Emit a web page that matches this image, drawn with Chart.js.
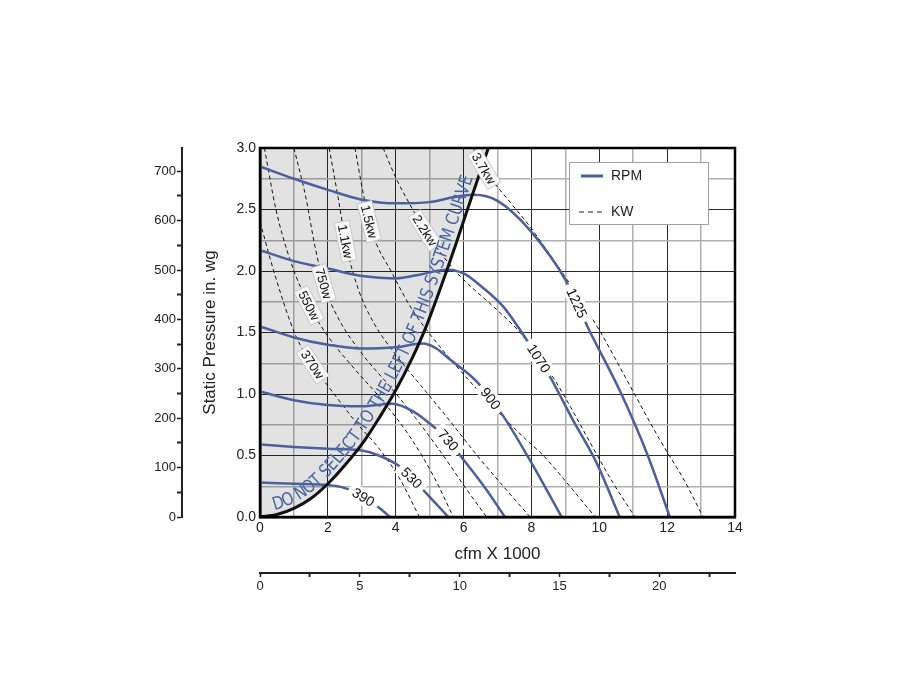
<!DOCTYPE html>
<html>
<head>
<meta charset="utf-8">
<title>Fan curve</title>
<script src="https://cdn.jsdelivr.net/npm/chart.js@4.4.1/dist/chart.umd.min.js"></script>
<style>
  html, body { margin: 0; padding: 0; background: #fff; }
  #wrap { width: 900px; height: 700px; position: relative; }
</style>
</head>
<body>
<div id="wrap"><canvas id="fan"></canvas></div>
<script>
const FONT = "'Liberation Sans', Arial, sans-serif";
const NARROW = "'Liberation Sans Narrow', 'DejaVu Sans Condensed', 'Liberation Sans', sans-serif";
const BLUE = '#4b609c';
const MAJOR = '#2a2a2a';
const MINOR = '#b0b0b0';

// RPM curves: [cfm x 1000, static pressure in. wg]
const rpmNames = ['1225', '1070', '900', '730', '530', '390'];
const rpm1225 = [[0, 2.85], [1, 2.75], [2, 2.66], [3, 2.58], [4, 2.55], [5, 2.56], [5.7, 2.6], [6.3, 2.62], [7.0, 2.57], [7.96, 2.33], [9.04, 1.91], [9.7, 1.52], [10.6, 1.03], [11.4, 0.52], [12.08, 0]];
const rpm1070 = [[0, 2.17], [1, 2.08], [2, 2.02], [3, 1.96], [4, 1.94], [4.7, 1.97], [5.5, 2.01], [6.0, 1.98], [6.5, 1.88], [7.17, 1.71], [7.86, 1.44], [8.55, 1.14], [9.2, 0.8], [9.92, 0.44], [10.6, 0]];
const rpm900 = [[0, 1.55], [1, 1.46], [2, 1.4], [3, 1.37], [4, 1.38], [4.8, 1.41], [5.2, 1.37], [5.6, 1.28], [6.39, 1.1], [7.17, 0.82], [7.96, 0.46], [8.89, 0]];
const rpm730 = [[0, 1.02], [1, 0.95], [2, 0.91], [3, 0.9], [3.9, 0.92], [4.5, 0.86], [5.0, 0.76], [5.5, 0.64], [5.9, 0.5], [6.6, 0.25], [7.22, 0]];
const rpm530 = [[0, 0.59], [1, 0.57], [2, 0.555], [3, 0.54], [3.5, 0.5], [4.07, 0.42], [4.5, 0.31], [4.91, 0.19], [5.55, 0]];
const rpm390 = [[0, 0.28], [1, 0.27], [2, 0.26], [2.5, 0.235], [3.0, 0.17], [3.54, 0.07], [3.83, 0]];
const rpmCurves = [rpm1225, rpm1070, rpm900, rpm730, rpm530, rpm390];
const rpmLabelAt = [9.34, 8.22, 6.8, 5.55, 4.47, 3.05];

// constant power lines
const kwNames = ['370w', '550w', '750w', '1.1kw', '1.5kw', '2.2kw', '3.7kw'];
const kw370 = [[0, 2.4], [0.47, 1.94], [1.06, 1.47], [1.55, 1.24], [2.24, 0.98], [2.83, 0.77], [3.5, 0.56], [4.1, 0.32], [4.7, 0]];
const kw550 = [[0.13, 3.0], [0.47, 2.5], [0.9, 2.08], [1.45, 1.72], [2.0, 1.47], [2.8, 1.2], [3.6, 0.95], [4.4, 0.66], [5.1, 0.34], [5.7, 0]];
const kw750 = [[1.0, 3.0], [1.35, 2.6], [1.62, 2.2], [1.9, 1.88], [2.3, 1.62], [3.0, 1.33], [3.8, 1.07], [4.6, 0.8], [5.4, 0.5], [6.1, 0.22], [6.68, 0]];
const kw1100 = [[2.04, 3.0], [2.3, 2.6], [2.55, 2.2], [2.9, 1.85], [3.35, 1.58], [4.0, 1.32], [4.8, 1.05], [5.6, 0.78], [6.4, 0.5], [7.2, 0.24], [7.96, 0]];
const kw1500 = [[2.8, 3.0], [3.05, 2.62], [3.3, 2.32], [3.9, 1.98], [4.5, 1.68], [5.2, 1.42], [6.0, 1.16], [7.0, 0.86], [7.8, 0.64], [8.35, 0.5], [9.1, 0.26], [9.88, 0]];
const kw2200 = [[3.63, 3.0], [4.0, 2.76], [4.4, 2.55], [4.86, 2.33], [5.66, 2.03], [6.0, 1.93], [7.0, 1.68], [7.6, 1.52], [8.15, 1.33], [8.65, 1.13], [9.04, 0.95], [9.8, 0.57], [10.4, 0.28], [11.05, 0]];
const kw3700 = [[6.28, 3.0], [6.63, 2.82], [7.37, 2.56], [7.96, 2.36], [8.5, 2.15], [9.05, 1.93], [10.0, 1.52], [10.8, 1.12], [11.8, 0.62], [12.5, 0.3], [13.06, 0]];
const kwCurves = [kw370, kw550, kw750, kw1100, kw1500, kw2200, kw3700];
const kwLabelAt = [1.55, 1.45, 1.88, 2.52, 3.22, 4.86, 6.6];

// system curve (left boundary of the selection area)
const systemCurve = [[0, 0], [0.5, 0.02], [1.0, 0.07], [1.5, 0.15], [2.0, 0.27], [2.5, 0.42], [3.1, 0.63], [3.5, 0.8], [3.98, 1.02], [4.5, 1.3], [4.9, 1.55], [5.5, 2.0], [5.75, 2.2], [6.2, 2.57], [6.73, 3.0]];
const systemText = 'DO NOT SELECT TO THE LEFT OF THIS SYSTEM CURVE';

// secondary axes: Pa and m3/h x 1000
const paMax = 747;
const m3hMax = 23.79;

const toPts = arr => arr.map(p => ({x: p[0], y: p[1]}));

const datasets = [];
datasets.push({
    label: 'system', data: toPts(systemCurve), borderColor: '#111', borderWidth: 3,
    fill: false, order: 0
});
rpmCurves.forEach((c, i) => datasets.push({
    label: 'RPM ' + rpmNames[i], data: toPts(c), borderColor: BLUE, borderWidth: 2.5,
    fill: false, order: 1
}));
kwCurves.forEach((c, i) => datasets.push({
    label: kwNames[i], data: toPts(c), borderColor: '#111', borderWidth: 1,
    borderDash: [4, 3], fill: false, order: 2
}));
datasets.push({
    label: 'shade', data: toPts(systemCurve), borderWidth: 0, borderColor: 'rgba(0,0,0,0)',
    backgroundColor: 'rgba(0,0,0,0.115)', fill: 'end', order: 3
});
const RPM0 = 1, KW0 = 1 + rpmCurves.length;

function lineAt(chart, dsIndex, xv) {
    const meta = chart.getDatasetMeta(dsIndex);
    let p = meta.dataset.interpolate({x: chart.scales.x.getPixelForValue(xv)}, 'x');
    if (Array.isArray(p)) p = p[0];
    if (p) return {x: p.x, y: p.y};
    const d = chart.data.datasets[dsIndex].data;
    for (let i = 1; i < d.length; i++) {
        if (xv <= d[i].x) {
            const t = (xv - d[i - 1].x) / (d[i].x - d[i - 1].x);
            const yv = d[i - 1].y + t * (d[i].y - d[i - 1].y);
            return {x: chart.scales.x.getPixelForValue(xv), y: chart.scales.y.getPixelForValue(yv)};
        }
    }
    return null;
}

function drawTag(ctx, p, ang, text, font, boxed) {
    ctx.save();
    ctx.translate(p.x, p.y);
    ctx.rotate(ang);
    ctx.font = font;
    const w = ctx.measureText(text).width;
    const bw = w + (boxed ? 6 : 10), bh = boxed ? 15 : 16;
    ctx.fillStyle = boxed ? '#f7f7f7' : '#fff';
    ctx.fillRect(-bw / 2, -bh / 2, bw, bh);
    if (boxed) {
        ctx.strokeStyle = '#c2c2c2';
        ctx.lineWidth = 0.8;
        ctx.strokeRect(-bw / 2, -bh / 2, bw, bh);
    }
    ctx.fillStyle = '#111';
    ctx.textAlign = 'center';
    ctx.textBaseline = 'middle';
    ctx.fillText(text, 0, 1);
    ctx.restore();
}

function drawCurveText(chart) {
    const ctx = chart.ctx;
    const meta = chart.getDatasetMeta(0);
    const xs = chart.scales.x;
    const x0 = xs.getPixelForValue(systemCurve[0][0]);
    const x1 = xs.getPixelForValue(systemCurve[systemCurve.length - 1][0]);
    const pts = [];
    for (let px = x0; px <= x1; px += 0.5) {
        let p = meta.dataset.interpolate({x: px}, 'x');
        if (Array.isArray(p)) p = p[0];
        if (p) pts.push({x: p.x, y: p.y});
    }
    if (pts.length < 2) return;
    const cum = [0];
    for (let i = 1; i < pts.length; i++) {
        cum.push(cum[i - 1] + Math.hypot(pts[i].x - pts[i - 1].x, pts[i].y - pts[i - 1].y));
    }
    const total = cum[cum.length - 1];
    const at = s => {
        let i = 1;
        while (i < cum.length - 1 && cum[i] < s) i++;
        const a = pts[i - 1], b = pts[i];
        const t = (s - cum[i - 1]) / ((cum[i] - cum[i - 1]) || 1);
        return {x: a.x + t * (b.x - a.x), y: a.y + t * (b.y - a.y), ang: Math.atan2(b.y - a.y, b.x - a.x)};
    };
    ctx.save();
    ctx.font = '18px ' + NARROW;
    ctx.fillStyle = '#4a65a3';
    ctx.textAlign = 'center';
    ctx.textBaseline = 'alphabetic';
    const chars = [...systemText];
    const widths = chars.map(c => ctx.measureText(c).width);
    const sum = widths.reduce((a, b) => a + b, 0);
    const s0 = 16, s1 = total - 32;
    const k = (s1 - s0) / sum;
    const g = Math.min(k, 1);
    let s = s0;
    chars.forEach((c, i) => {
        const mid = s + widths[i] * k / 2;
        const p = at(mid);
        ctx.save();
        ctx.translate(p.x, p.y);
        ctx.rotate(p.ang);
        ctx.scale(g, 1);
        ctx.fillText(c, 0, -5);
        ctx.restore();
        s += widths[i] * k;
    });
    ctx.restore();
}

function drawLegend(chart) {
    const ctx = chart.ctx;
    const a = chart.chartArea;
    const lx = a.right - 166, ly = a.top + 14, lw = 139, lh = 62;
    ctx.save();
    ctx.fillStyle = '#fff';
    ctx.fillRect(lx, ly, lw, lh);
    ctx.strokeStyle = '#a0a0a0';
    ctx.lineWidth = 1;
    ctx.strokeRect(lx + 0.5, ly + 0.5, lw, lh);
    ctx.strokeStyle = BLUE;
    ctx.lineWidth = 3;
    ctx.beginPath();
    ctx.moveTo(lx + 12, ly + 14);
    ctx.lineTo(lx + 34, ly + 14);
    ctx.stroke();
    ctx.strokeStyle = '#222';
    ctx.lineWidth = 1.2;
    ctx.setLineDash([5, 4]);
    ctx.beginPath();
    ctx.moveTo(lx + 10, ly + 50);
    ctx.lineTo(lx + 34, ly + 50);
    ctx.stroke();
    ctx.setLineDash([]);
    ctx.fillStyle = '#222';
    ctx.font = '14px ' + FONT;
    ctx.textBaseline = 'middle';
    ctx.fillText('RPM', lx + 42, ly + 14);
    ctx.fillText('KW', lx + 42, ly + 50);
    ctx.restore();
}

const overlay = {
    id: 'overlay',
    afterDatasetsDraw(chart) {
        const ctx = chart.ctx;
        const a = chart.chartArea;

        kwCurves.forEach((c, i) => {
            const di = KW0 + i;
            const p = lineAt(chart, di, kwLabelAt[i]);
            const p1 = lineAt(chart, di, kwLabelAt[i] - 0.1);
            const p2 = lineAt(chart, di, kwLabelAt[i] + 0.1);
            if (!p || !p1 || !p2) return;
            drawTag(ctx, p, Math.atan2(p2.y - p1.y, p2.x - p1.x), kwNames[i], '13px ' + FONT, true);
        });
        rpmCurves.forEach((c, i) => {
            const di = RPM0 + i;
            const p = lineAt(chart, di, rpmLabelAt[i]);
            const p1 = lineAt(chart, di, rpmLabelAt[i] - 0.12);
            const p2 = lineAt(chart, di, rpmLabelAt[i] + 0.12);
            if (!p || !p1 || !p2) return;
            drawTag(ctx, p, Math.atan2(p2.y - p1.y, p2.x - p1.x), rpmNames[i], '14px ' + FONT, false);
        });

        drawCurveText(chart);

        ctx.save();
        ctx.strokeStyle = '#000';
        ctx.lineWidth = 2.5;
        ctx.strokeRect(a.left, a.top, a.right - a.left, a.bottom - a.top);
        ctx.restore();

        drawLegend(chart);
    }
};

const tickFont = {family: FONT, size: 14};
const smallFont = {family: FONT, size: 13};
const titleFont = {family: FONT, size: 17};

new Chart(document.getElementById('fan'), {
    type: 'line',
    data: {datasets: datasets},
    options: {
        responsive: true,
        maintainAspectRatio: false,
        animation: false,
        events: [],
        layout: {padding: {top: 148, right: 165, bottom: 97, left: 140}},
        elements: {
            point: {radius: 0},
            line: {cubicInterpolationMode: 'monotone'}
        },
        plugins: {
            legend: {display: false},
            tooltip: {enabled: false}
        },
        scales: {
            x: {
                type: 'linear', position: 'bottom', weight: 0, min: 0, max: 14,
                ticks: {
                    stepSize: 1, autoSkip: false, maxRotation: 0, padding: 3,
                    color: '#222', font: tickFont,
                    callback: v => (v % 2 === 0 ? String(v) : '')
                },
                grid: {
                    drawTicks: false,
                    color: c => (c.tick && c.tick.value % 2 === 0 ? MAJOR : MINOR),
                    lineWidth: c => (c.tick && c.tick.value % 2 === 0 ? 1 : 1.5)
                },
                border: {display: true, color: '#000', width: 2.5},
                title: {display: true, text: 'cfm X 1000', color: '#222', font: titleFont, padding: {top: 0, bottom: 8}},
                afterFit: s => { s.height = 56; }
            },
            x2: {
                type: 'linear', position: 'bottom', weight: 1, min: 0, max: m3hMax,
                ticks: {
                    stepSize: 2.5, includeBounds: false, autoSkip: false, maxRotation: 0, padding: 2,
                    color: '#222', font: smallFont,
                    callback: v => (v % 5 === 0 ? String(v) : '')
                },
                grid: {
                    drawOnChartArea: false, drawTicks: true, tickLength: 4,
                    tickColor: '#222', tickWidth: c => (c.tick && c.tick.value % 5 === 0 ? 1.5 : 2)
                },
                border: {display: true, color: '#222', width: 2},
                afterFit: s => { s.height = 30; }
            },
            y: {
                type: 'linear', position: 'left', weight: 0, min: 0, max: 3,
                ticks: {
                    stepSize: 0.25, autoSkip: false, padding: 4,
                    color: '#222', font: tickFont,
                    callback: v => (Math.round(v * 100) % 50 === 0 ? v.toFixed(1) : '')
                },
                grid: {
                    drawTicks: false,
                    color: c => (c.tick && Math.round(c.tick.value * 100) % 50 === 0 ? MAJOR : MINOR),
                    lineWidth: c => (c.tick && Math.round(c.tick.value * 100) % 50 === 0 ? 1 : 1.5)
                },
                border: {display: true, color: '#000', width: 2.5},
                title: {display: true, text: 'Static Pressure in. wg', color: '#222', font: titleFont, padding: {top: 18, bottom: 0}},
                afterFit: s => { s.width = 78; }
            },
            y2: {
                type: 'linear', position: 'left', weight: 1, min: 0, max: paMax,
                ticks: {
                    stepSize: 50, includeBounds: false, autoSkip: false, padding: 1,
                    color: '#222', font: smallFont,
                    callback: v => (v % 100 === 0 ? String(v) : '')
                },
                grid: {
                    drawOnChartArea: false, drawTicks: true, tickLength: 5,
                    tickColor: '#222', tickWidth: c => (c.tick && c.tick.value % 100 === 0 ? 1.5 : 2)
                },
                border: {display: true, color: '#222', width: 2},
                afterFit: s => { s.width = 42; }
            }
        }
    },
    plugins: [overlay]
});
</script>
</body>
</html>
